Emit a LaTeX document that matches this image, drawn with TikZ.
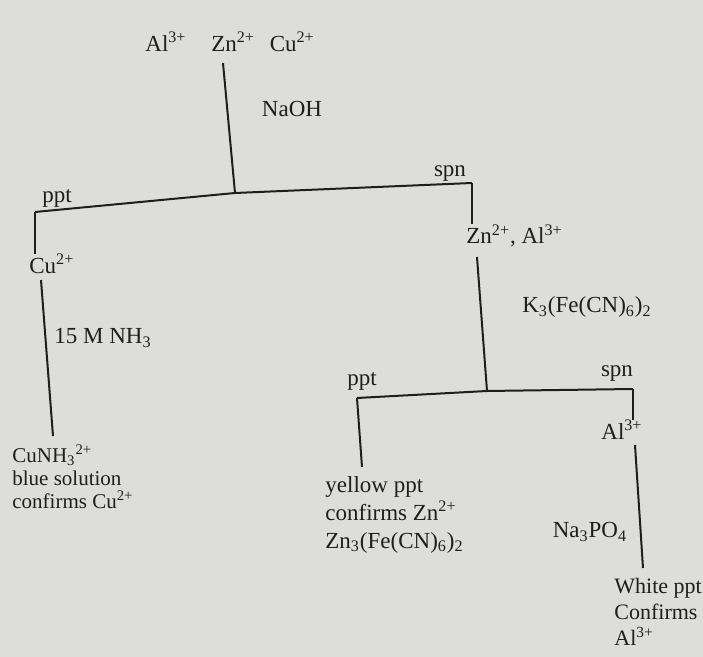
\documentclass[tikz,border=0pt]{standalone}
\usepackage{fontspec}
\setmainfont{Liberation Serif}
\usetikzlibrary{positioning}
\definecolor{paper}{RGB}{221,221,217}
\definecolor{ink}{RGB}{30,30,30}

\begin{document}
\begin{tikzpicture}[
    x=0.5pt, y=-0.5pt,
    lbl/.style={text=ink, inner sep=0pt, font=\fontsize{11.5}{12}\selectfont},
    lblL/.style={lbl, align=left, anchor=north west},
    branch/.style={draw=ink, line width=1pt}
]
% paper
\fill[paper] (0,0) rectangle (703,657);
\useasboundingbox (0,0) rectangle (703,657);

% starting mixture
\node[lbl, anchor=west] (ionAl) at (145,42) {Al\textsuperscript{3+}};
\node[lbl, right=12pt of ionAl] (ionZn) {Zn\textsuperscript{2+}};
\node[lbl, right=7pt of ionZn] (ionCu) {Cu\textsuperscript{2+}};

% NaOH split
\coordinate (naohTop) at (223,63);
\coordinate (j0) at (235,193);
\coordinate (pptL) at (35,212);
\coordinate (spnR) at (472,183);
\draw[branch] (naohTop) -- (j0);
\draw[branch] (pptL) -- (j0) -- (spnR);
\node[lbl] (naoh) at (292,109) {NaOH};

% precipitate branch
\node[lbl] (ppt1) at (57,198) {ppt};
\node[lbl, anchor=west] (cu) at (29,264) {Cu\textsuperscript{2+}};
\draw[branch] (pptL) -- (pptL |- cu.north);
\coordinate (cuA) at (41,280);
\coordinate (cuB) at (53,436);
\draw[branch] (cuA) -- (cuB);
\node[lbl] (nh3) at (103,338) {15 M NH\textsubscript{3}};
\node[lblL, font=\fontsize{10.5}{11.5}\selectfont] (cunh) at (12,444) {CuNH\textsubscript{3}\textsuperscript{2+}\\blue solution\\confirms Cu\textsuperscript{2+}};

% solution branch
\node[lbl] (spn1) at (450,174) {spn};
\node[lbl, anchor=west] (znal) at (466,236) {Zn\textsuperscript{2+}, Al\textsuperscript{3+}};
\draw[branch] (spnR) -- (spnR |- znal.north);
\coordinate (kA) at (477,257);
\coordinate (j1) at (487,391);
\draw[branch] (kA) -- (j1);
\node[lbl] (kfe) at (587,307) {K\textsubscript{3}(Fe(CN)\textsubscript{6})\textsubscript{2}};

% K3(Fe(CN)6)2 split
\coordinate (pptM) at (357,398);
\coordinate (spnM) at (633,389);
\draw[branch] (pptM) -- (j1) -- (spnM);
\node[lbl] (ppt2) at (362,381) {ppt};
\node[lbl] (spn2) at (617,374) {spn};
\coordinate (ylA) at (362,467);
\draw[branch] (pptM) -- (ylA);
\node[lblL, font=\fontsize{11.5}{14}\selectfont] (ylw) at (325,476) {yellow ppt\\confirms Zn\textsuperscript{2+}\\Zn\textsubscript{3}(Fe(CN)\textsubscript{6})\textsubscript{2}};

% aluminium test
\node[lbl] (al2) at (622,430) {Al\textsuperscript{3+}};
\draw[branch] (spnM) -- (spnM |- al2.north);
\coordinate (naA) at (635,445);
\coordinate (naB) at (643,568);
\draw[branch] (naA) -- (naB);
\node[lbl] (napo) at (590,532) {Na\textsubscript{3}PO\textsubscript{4}};
\node[lblL, font=\fontsize{11}{13}\selectfont] (wht) at (614,578) {White ppt\\Confirms\\Al\textsuperscript{3+}};
\end{tikzpicture}
\end{document}
